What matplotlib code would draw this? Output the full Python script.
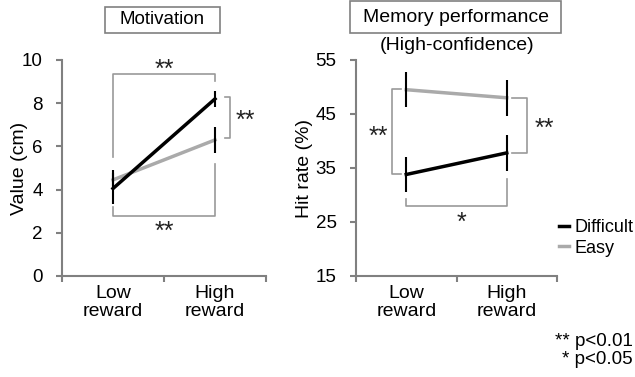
import matplotlib.pyplot as plt
from matplotlib.patches import Rectangle

#--------------------- data -----------------------
categories = ["Low\nreward", "High\nreward"]

motiv_difficult = [4.05, 8.2]
motiv_difficult_err = [0.7, 0.38]
motiv_easy = [4.45, 6.3]
motiv_easy_err = [0.45, 0.6]

mem_difficult = [33.8, 37.8]
mem_difficult_err = [3.2, 3.4]
mem_easy = [49.5, 48.0]
mem_easy_err = [3.2, 3.3]

BLACK = "black"
GREY = "#aaaaaa"
SPINE = "#808080"
BRACKET = "#999999"
STAR = "#222222"

plt.rcParams['font.family'] = ['Liberation Sans', 'DejaVu Sans']

W, H = 635, 377
fig = plt.figure(figsize=(6.35, 3.77), dpi=100)
ax1 = fig.add_axes([62 / W, 1 - 276 / H, 204 / W, 216 / H])
ax2 = fig.add_axes([356 / W, 1 - 276 / H, 201 / W, 216 / H])

x = [0, 1]

def style_axis(ax, ylim, yticks):
    ax.set_xlim(-0.5, 1.5)
    ax.set_ylim(*ylim)
    ax.set_yticks(yticks)
    ax.set_xticks([-0.5, 0.5, 1.5])
    ax.set_xticklabels([])
    ax.tick_params(axis='x', length=4, color=SPINE, width=1.5)
    ax.tick_params(axis='y', length=4, color=SPINE, width=1.5, labelsize=13.5, pad=10)
    for s in ["top", "right"]:
        ax.spines[s].set_visible(False)
    for s in ["left", "bottom"]:
        ax.spines[s].set_color(SPINE)
        ax.spines[s].set_linewidth(1.5)
    for xi, lab in zip(x, categories):
        ax.text(xi, -0.04, lab, transform=ax.get_xaxis_transform(), ha='center', va='top',
                fontsize=14, linespacing=1.1)

def plot_series(ax, vals, errs, color, label):
    ax.plot(x, vals, color=color, lw=2.5, label=label, zorder=3)
    ax.errorbar(x, vals, yerr=errs, fmt='none', ecolor=BLACK, elinewidth=1.5, capsize=0, zorder=4)

def bracket(ax, xs, ys):
    ax.plot(xs, ys, color=BRACKET, lw=1.2, clip_on=False)

def stars(ax, xx, yy, s, va='center'):
    ax.text(xx, yy, s, ha='center', va=va, fontsize=18, color=STAR)

#--------------------- Motivation -----------------------
style_axis(ax1, (0, 10), [0, 2, 4, 6, 8, 10])
plot_series(ax1, motiv_easy, motiv_easy_err, GREY, "Easy")
plot_series(ax1, motiv_difficult, motiv_difficult_err, BLACK, "Difficult")
ax1.set_ylabel("Value (cm)", fontsize=14)
ax1.yaxis.set_label_coords(-0.165, 0.5)

bracket(ax1, [0, 0, 1, 1], [5.5, 9.35, 9.35, 9.05])
stars(ax1, 0.5, 9.55, "**")
bracket(ax1, [1.1, 1.15, 1.15, 1.1], [8.3, 8.3, 6.4, 6.4])
stars(ax1, 1.3, 7.2, "**")
bracket(ax1, [0, 0, 1, 1], [3.2, 2.78, 2.78, 5.2])
stars(ax1, 0.5, 2.05, "**")

#--------------------- Memory performance -----------------------
style_axis(ax2, (15, 55), [15, 25, 35, 45, 55])
plot_series(ax2, mem_easy, mem_easy_err, GREY, "Easy")
plot_series(ax2, mem_difficult, mem_difficult_err, BLACK, "Difficult")
ax2.set_ylabel("Hit rate (%)", fontsize=14)
ax2.yaxis.set_label_coords(-0.215, 0.5)

bracket(ax2, [-0.05, -0.14, -0.14, -0.05], [49.6, 49.6, 33.8, 33.8])
bracket(ax2, [1.05, 1.2, 1.2, 1.05], [47.9, 47.9, 37.8, 37.8])
stars(ax2, -0.28, 40.8, "**")
stars(ax2, 1.37, 42.2, "**")
bracket(ax2, [0, 0, 1, 1], [29.2, 27.9, 27.9, 33.0])
stars(ax2, 0.55, 24.9, "*")

handles, labels = ax2.get_legend_handles_labels()
fig.legend(handles[::-1], labels[::-1], loc='center left', bbox_to_anchor=(559 / W, 1 - 238 / H),
           frameon=False, fontsize=13, handlelength=0.55, handletextpad=0.3,
           labelspacing=0.2, borderaxespad=0, borderpad=0)

#--------------------- titles -----------------------
fig.add_artist(Rectangle((105 / W, 1 - 33 / H), 115 / W, 26 / H, transform=fig.transFigure,
                         facecolor='white', edgecolor=SPINE, lw=1.2))
fig.text(162.5 / W, 1 - 20 / H, "Motivation", ha='center', va='center', fontsize=13.5)
fig.add_artist(Rectangle((350 / W, 1 - 33 / H), 211 / W, 32 / H, transform=fig.transFigure,
                         facecolor='white', edgecolor=SPINE, lw=1.2))
fig.text(456 / W, 1 - 18 / H, "Memory performance", ha='center', va='center', fontsize=14)
fig.text(457 / W, 1 - 45 / H, "(High-confidence)", ha='center', va='center', fontsize=14)

fig.text(633 / W, 1 - 342 / H, "** p<0.01", ha='right', va='center', fontsize=13.5)
fig.text(633 / W, 1 - 359 / H, "* p<0.05", ha='right', va='center', fontsize=13.5)

fig.savefig("out.png", dpi=100)
